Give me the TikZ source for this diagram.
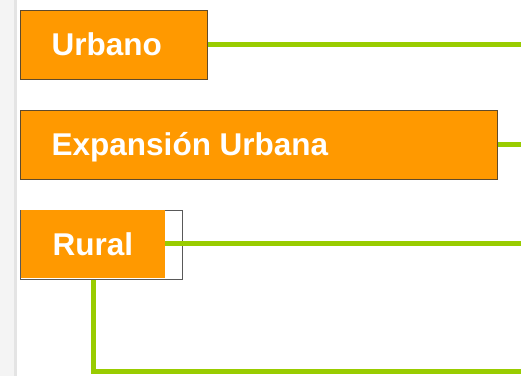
\documentclass[tikz,border=0pt]{standalone}
\usepackage{fontspec}
\setmainfont{Liberation Sans}
\definecolor{boxorange}{HTML}{FF9900}
\definecolor{linegreen}{HTML}{99CC00}
\definecolor{boxedge}{HTML}{5E4A2C}
\definecolor{bandgray}{HTML}{F4F4F4}
\definecolor{bandline}{HTML}{E4E4E4}
\begin{document}
\begin{tikzpicture}[x=1pt,y=-1pt,
  catbox/.style={draw=boxedge, line width=1.3pt, fill=boxorange, inner sep=0pt,
    minimum height=69pt, anchor=north west},
  cattext/.style={text=white, font=\fontsize{31.5}{35}\selectfont\bfseries,
    anchor=base west, inner sep=0pt},
  link/.style={draw=linegreen, line width=5pt}]
\useasboundingbox (0,0) rectangle (521,376);
\fill[white] (0,0) rectangle (521,376);
\fill[bandgray] (0,0) rectangle (14,376);
\fill[bandline] (14,0) rectangle (16.5,376);
% boxes
\node[catbox, minimum width=187pt] (urb) at (20,10) {};
\node[catbox, minimum width=477pt] (exp) at (20,109.5) {};
\node[draw=black!65, line width=1.3pt, fill=white, inner sep=0pt,
  minimum width=162pt, minimum height=69pt, anchor=north west] (rur) at (20,209.5) {};
\fill[boxorange] (20.65,210.15) rectangle (165,277.85);
\coordinate (rurR) at (165,243.5);
% texts
\node[cattext] (turb) at (51.5,55.5) {Urbano};
\node[cattext] (texp) at (51.5,155) {Expansión Urbana};
\node[cattext] (trur) at (52.5,255) {Rural};
% connectors
\coordinate (e1) at (521,44.5);
\coordinate (e2) at (521,144.5);
\coordinate (e3) at (521,243.5);
\coordinate (e4) at (521,371.5);
\draw[link] (urb.east |- e1) -- (e1);
\draw[link] (exp.east |- e2) -- (e2);
\draw[link] (rurR) -- (e3);
\draw[link] (rur.south -| 93,0) -- (93,371.5) -- (e4);
\end{tikzpicture}
\end{document}
